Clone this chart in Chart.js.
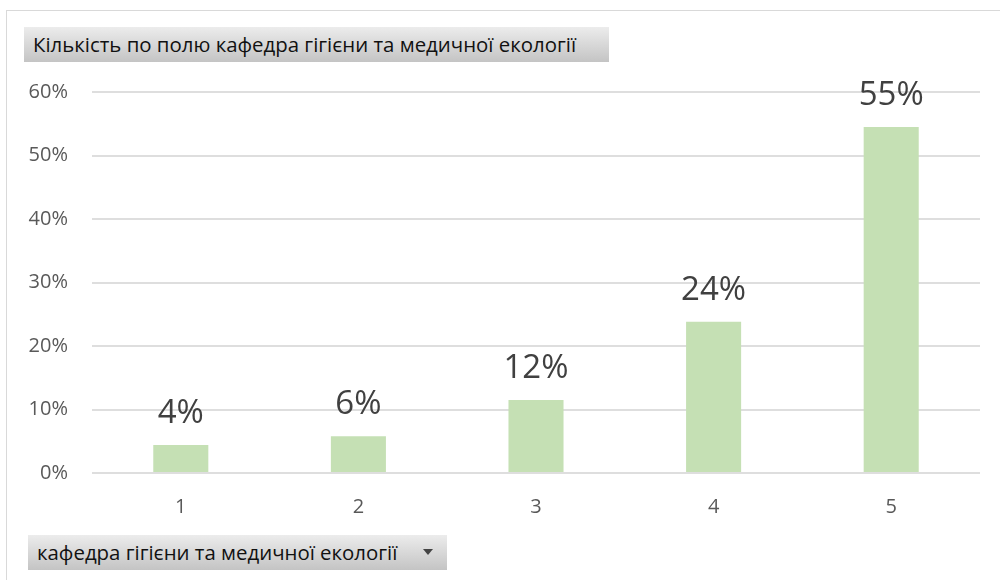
<!DOCTYPE html>
<html>
<head>
<meta charset="utf-8">
<script src="https://cdn.jsdelivr.net/npm/chart.js@4/dist/chart.umd.min.js"></script>
<style>
  html, body { margin: 0; padding: 0; background: #fff; }
  #wrap { position: relative; width: 1000px; height: 580px; overflow: hidden; }
  #frame { position: absolute; left: 6px; top: 10px; right: -2px; bottom: -2px; border-left: 1px solid #d9d9d9; border-top: 1px solid #d9d9d9; }
  .btn {
    position: absolute; height: 35px; line-height: 35px;
    background: linear-gradient(#ececec, #c4c4c4);
    font-family: "Open Sans", sans-serif; font-size: 20.4px; color: #111;
    box-sizing: border-box; white-space: nowrap;
  }
  #titleBtn { left: 24px; top: 27px; width: 585px; padding-left: 9px; }
  #fieldBtn { left: 28px; top: 535px; width: 419px; padding-left: 9px; }
  #arrow { position: absolute; left: 395px; top: 14px; width: 0; height: 0;
    border-left: 5px solid transparent; border-right: 5px solid transparent; border-top: 6px solid #444; }
  canvas { position: absolute; left: 0; top: 0; }
</style>
</head>
<body>
<div id="wrap">
  <div id="frame"></div>
  <canvas id="myChart" width="1000" height="580"></canvas>
  <div class="btn" id="titleBtn">Кількість по полю кафедра гігієни та медичної екології</div>
  <div class="btn" id="fieldBtn">кафедра гігієни та медичної екології<span id="arrow"></span></div>
</div>
<script>
// values
const categories = ['1', '2', '3', '4', '5']
const shares = [0.044, 0.058, 0.115, 0.238, 0.545]
const shareLabels = ['4%', '6%', '12%', '24%', '55%']

// draw the big % labels above each bar
const barLabels = {
    id: 'barLabels',
    afterDatasetsDraw(chart) {
        const ctx = chart.ctx
        const meta = chart.getDatasetMeta(0)
        ctx.save()
        ctx.font = '33px "Open Sans", sans-serif'
        ctx.fillStyle = '#404040'
        ctx.textAlign = 'center'
        ctx.textBaseline = 'alphabetic'
        meta.data.forEach((bar, i) => {
            ctx.fillText(shareLabels[i], bar.x, bar.y - 22)
        })
        ctx.restore()
    }
}

const data = {
    labels: categories,
    datasets: [{
        data: shares,
        backgroundColor: '#c5e0b4',
        categoryPercentage: 1,
        barPercentage: 0.31
    }]
}

const config = {
    type: 'bar',
    data: data,
    plugins: [barLabels],
    options: {
        responsive: false,
        animation: false,
        layout: { padding: { top: 92, right: 20, left: 0, bottom: 0 } },
        plugins: { legend: { display: false }, tooltip: { enabled: false } },
        scales: {
            x: {
                afterFit: s => { s.height = 107 },
                grid: { display: false, drawTicks: false },
                border: { display: false },
                ticks: { padding: 22, color: '#595959', font: { family: 'Open Sans', size: 20 } }
            },
            y: {
                min: 0,
                max: 0.6,
                afterFit: s => { s.width = 92 },
                grid: { color: '#dedede', lineWidth: 2, drawTicks: false },
                border: { display: false },
                ticks: {
                    stepSize: 0.1,
                    padding: 24,
                    color: '#595959',
                    font: { family: 'Open Sans', size: 20 },
                    callback: v => Math.round(v * 100) + '%'
                }
            }
        }
    }
}

const myChart = new Chart(document.getElementById('myChart'), config)
</script>
</body>
</html>
